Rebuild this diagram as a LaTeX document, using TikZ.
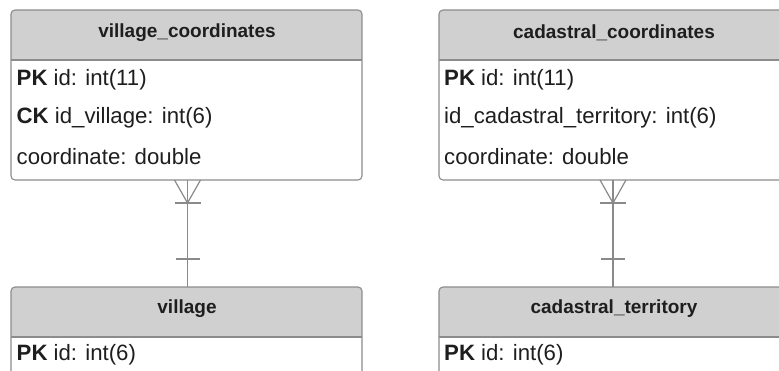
\documentclass[tikz,border=0pt]{standalone}
\usepackage{fontspec}
\setmainfont{Liberation Sans}
\usetikzlibrary{calc}
\definecolor{bordercol}{HTML}{8C8C8C}
\definecolor{headcol}{HTML}{D0D0D0}
\definecolor{txtcol}{HTML}{1E1E1E}
\definecolor{conncol}{HTML}{8A8A8A}
\begin{document}
\begin{tikzpicture}[x=1pt,y=-1pt,
  border/.style={draw=bordercol,line width=1.1pt},
  headtext/.style={font=\fontsize{19}{19}\selectfont\bfseries,text=txtcol,inner sep=0pt,anchor=center},
  rowtext/.style={font=\fontsize{22.2}{22.2}\selectfont,text=txtcol,inner sep=0pt,anchor=west},
  conn/.style={draw=conncol,line width=1.2pt}]
\useasboundingbox (0,0) rectangle (779,371);
\clip (0,0) rectangle (779,371);
% ---- table frames
\foreach \x/\y/\b in {11/10/180, 439/10/180, 11/287/440, 439/287/440}{
  \begin{scope}
    \clip[rounded corners=4] (\x,\y) rectangle ({\x+351},\b);
    \fill[white] (\x,\y) rectangle ({\x+351},\b);
    \fill[headcol] (\x,\y) rectangle ({\x+351},{\y+50});
  \end{scope}
  \draw[border,rounded corners=4] (\x,\y) rectangle ({\x+351},\b);
  \draw[border] (\x,{\y+50}) -- ({\x+351},{\y+50});
}
% ---- village_coordinates
\node[headtext] (vch) at (187,33) {village\_coordinates};
\node[rowtext] (vc1) at (16.5,80) {\textbf{PK} id: int(11)};
\node[rowtext] (vc2) at (16.5,118) {\textbf{CK} id\_village: int(6)};
\node[rowtext] (vc3) at (16.5,157) {coordinate: double};
% ---- cadastral_coordinates
\node[headtext] (cch) at (614,33) {cadastral\_coordinates};
\node[rowtext] (cc1) at (444,80) {\textbf{PK} id: int(11)};
\node[rowtext] (cc2) at (444,118) {id\_cadastral\_territory: int(6)};
\node[rowtext] (cc3) at (444,157) {coordinate: double};
% ---- village
\node[headtext] (vh) at (187,309) {village};
\node[rowtext] (v1) at (16.5,355) {\textbf{PK} id: int(6)};
% ---- cadastral_territory
\node[headtext] (cth) at (614,309) {cadastral\_territory};
\node[rowtext] (ct1) at (444,355) {\textbf{PK} id: int(6)};
% ---- connectors
\coordinate (vcb) at (187.5,180);
\coordinate (vt) at (187.5,287);
\coordinate (ccb) at (613,180);
\coordinate (ctt) at (613,287);
\foreach \a/\b in {vcb/vt, ccb/ctt}{
  \draw[conn] (\a) -- (\b);
  \draw[conn] ($(\a)+(-13,0)$) -- ($(\a)+(0,23)$) -- ($(\a)+(13,0)$);
  \draw[conn] ($(\a)+(-13,23)$) -- ($(\a)+(13,23)$);
  \draw[conn] ($(\a)+(-12,79)$) -- ($(\a)+(12,79)$);
}
\end{tikzpicture}
\end{document}
